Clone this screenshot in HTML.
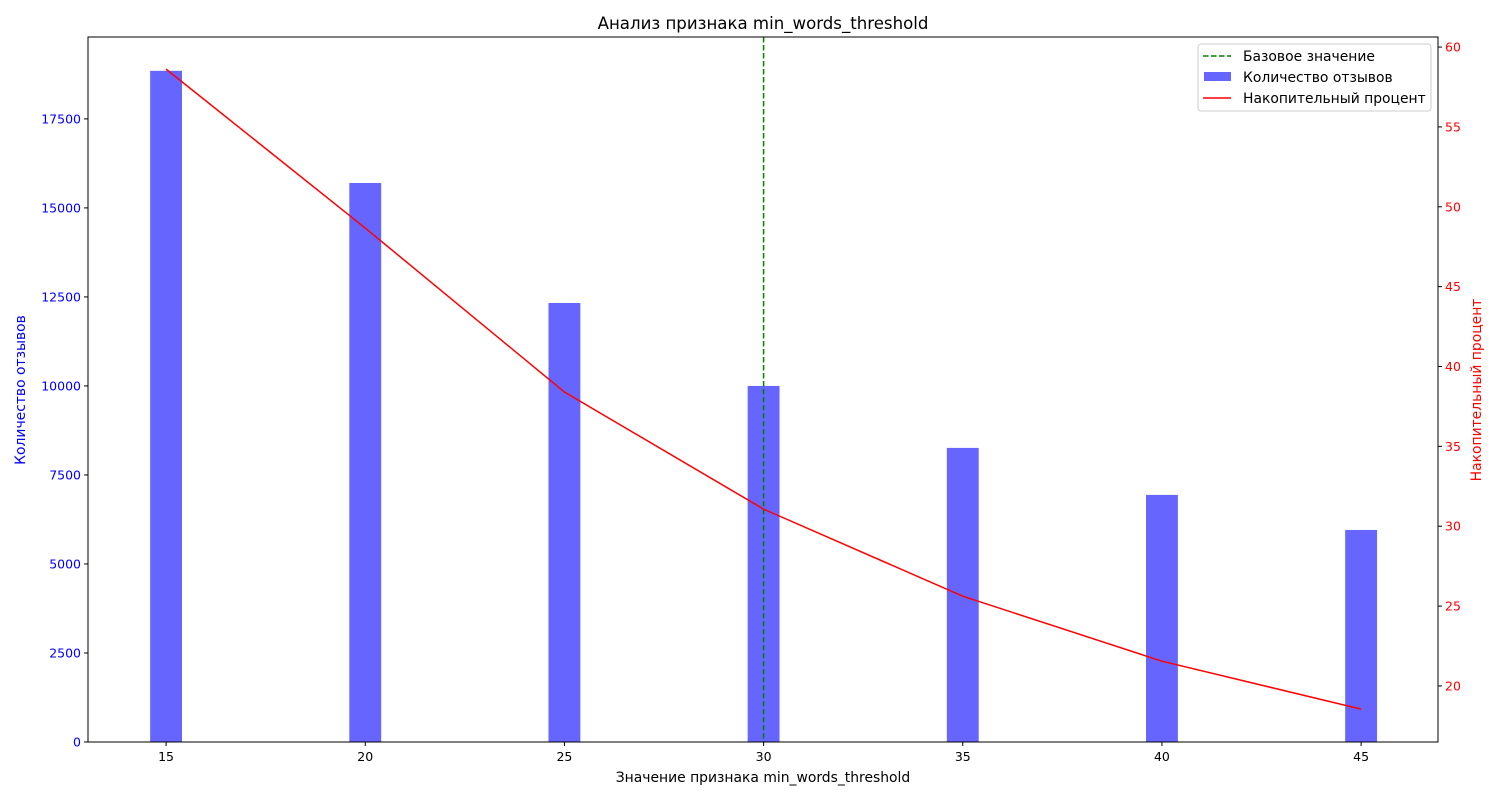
<!DOCTYPE html>
<html><head><meta charset="utf-8"><style>
body{margin:0;background:#fff;}
svg text{font-family:"DejaVu Sans","Liberation Sans",sans-serif;}
</style></head><body>
<svg id="chart" width="1500" height="800" xmlns="http://www.w3.org/2000/svg"></svg>
<script>
const categories=[15,20,25,30,35,40,45];
const counts=[18850,15700,12330,10000,8260,6940,5955];
const cumPercent=[58.62,48.67,38.4,31.07,25.62,21.55,18.55];
const leftTicks=[0,2500,5000,7500,10000,12500,15000,17500];
const rightTicks=[20,25,30,35,40,45,50,55,60];
const xTicks=[15,20,25,30,35,40,45];
const baseValue=30;

const L=88,R=1438,T=37,B=742;
const xMin=13.04,xMax=46.93,yMax=19800,rMin=16.49,rMax=60.63;
const X=v=>L+(v-xMin)/(xMax-xMin)*(R-L);
const Y=v=>B-v/yMax*(B-T);
const YR=v=>B-(v-rMin)/(rMax-rMin)*(B-T);
const svg=document.getElementById('chart');
const NS='http://www.w3.org/2000/svg';
function el(tag,attrs,parent){const e=document.createElementNS(NS,tag);for(const k in attrs)e.setAttribute(k,attrs[k]);(parent||svg).appendChild(e);return e;}
function txt(s,attrs){const t=el('text',attrs);t.textContent=s;return t;}

categories.forEach((c,i)=>{
  const w=X(c+0.4)-X(c-0.4);
  const b=el('rect',{x:X(c)-w/2,y:Y(counts[i]),width:w,height:B-Y(counts[i]),fill:'#6666ff'});
  
  
});
const bl=el('line',{x1:X(baseValue),x2:X(baseValue),y1:T,y2:B,stroke:'green','stroke-width':1.5,'stroke-dasharray':'5.5,2.5'});


const ln=el('polyline',{points:categories.map((c,i)=>X(c)+','+YR(cumPercent[i])).join(' '),fill:'none',stroke:'red','stroke-width':1.5});



const fr=el('rect',{x:L,y:T,width:R-L,height:B-T,fill:'none',stroke:'#000','stroke-width':1});



xTicks.forEach(v=>{
  el('line',{x1:X(v),x2:X(v),y1:B,y2:B+4,stroke:'#000'});
  const t=txt(v,{x:X(v),y:B+19,'text-anchor':'middle','font-size':12.5});
  
  
});
leftTicks.forEach(v=>{
  el('line',{x1:L-4,x2:L,y1:Y(v),y2:Y(v),stroke:'#000'});
  const t=txt(v,{x:L-7,y:Y(v)+4.5,'text-anchor':'end','font-size':12.5,fill:'blue'});
  
  
});
rightTicks.forEach(v=>{
  el('line',{x1:R,x2:R+4,y1:YR(v),y2:YR(v),stroke:'#000'});
  const t=txt(v,{x:R+7,y:YR(v)+4.5,'font-size':12.5,fill:'red'});
  
  
});
let t;
t=txt('Анализ признака min_words_threshold',{x:(L+R)/2,y:29,'text-anchor':'middle','font-size':16.6});

t=txt('Значение признака min_words_threshold',{x:(L+R)/2,y:782,'text-anchor':'middle','font-size':13.9});

t=txt('Количество отзывов',{x:0,y:0,'text-anchor':'middle','font-size':13.9,fill:'blue',transform:'translate(25,390) rotate(-90)'});

t=txt('Накопительный процент',{x:0,y:0,'text-anchor':'middle','font-size':13.9,fill:'red',transform:'translate(1481,390) rotate(-90)'});


const lg=el('g',{});


el('rect',{x:1198,y:44,width:233,height:67,rx:3,fill:'#fff','fill-opacity':0.8,stroke:'#ccc'},lg);
el('line',{x1:1203,x2:1231,y1:56,y2:56,stroke:'green','stroke-width':1.5,'stroke-dasharray':'5.5,2.5'},lg);
el('rect',{x:1204,y:72,width:27,height:9,fill:'#6666ff'},lg);
el('line',{x1:1203,x2:1231,y1:98,y2:98,stroke:'red','stroke-width':1.5},lg);
[['Базовое значение',61],['Количество отзывов',82],['Накопительный процент',103]].forEach(([s,y])=>{
  const e=txt(s,{x:1243,y:y,'font-size':13.9});
  
  
});
</script>
</body></html>
